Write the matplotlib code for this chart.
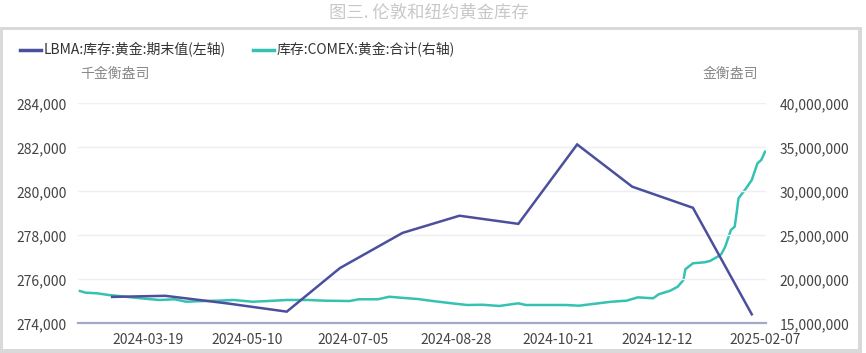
import matplotlib
matplotlib.use("Agg")
import matplotlib.pyplot as plt
import matplotlib.dates as mdates
from matplotlib.lines import Line2D
from matplotlib.patches import Rectangle
from matplotlib.ticker import FuncFormatter, FixedLocator
import pandas as pd

plt.rcParams['font.family'] = ['Noto Sans CJK SC', 'DejaVu Sans']

# ---------------- data ----------------
title = "图三. 伦敦和纽约黄金库存"
lbma_label = "LBMA:库存:黄金:期末值(左轴)"
comex_label = "库存:COMEX:黄金:合计(右轴)"
left_unit = "千金衡盎司"
right_unit = "金衡盎司"

lbma_dates = ["2024-02-29", "2024-03-28", "2024-04-30", "2024-05-31", "2024-06-28",
              "2024-07-31", "2024-08-30", "2024-09-30", "2024-10-31", "2024-11-29",
              "2024-12-31", "2025-01-31"]
lbma_values = [275200, 275250, 274900, 274530, 276510, 278110, 278890, 278520,
               282130, 280210, 279250, 274410]

comex_dates = ["2024-02-12", "2024-02-15", "2024-02-21", "2024-02-27", "2024-03-07",
               "2024-03-15", "2024-03-25", "2024-04-02", "2024-04-08", "2024-04-17",
               "2024-04-25", "2024-05-03", "2024-05-13", "2024-05-21", "2024-05-31",
               "2024-06-11", "2024-06-20", "2024-07-03", "2024-07-08", "2024-07-18",
               "2024-07-24", "2024-07-30", "2024-08-08", "2024-08-16", "2024-08-26",
               "2024-09-03", "2024-09-11", "2024-09-20", "2024-09-30", "2024-10-04",
               "2024-10-17", "2024-10-25", "2024-11-01", "2024-11-08", "2024-11-18",
               "2024-11-26", "2024-12-02", "2024-12-10", "2024-12-13", "2024-12-19",
               "2024-12-23", "2024-12-26", "2024-12-27", "2024-12-31", "2025-01-06",
               "2025-01-09", "2025-01-13", "2025-01-15", "2025-01-17", "2025-01-20",
               "2025-01-22", "2025-01-23", "2025-01-24", "2025-01-28", "2025-01-31",
               "2025-02-03", "2025-02-05", "2025-02-07"]
comex_values = [18.67, 18.48, 18.41, 18.22, 18.02, 17.84, 17.65, 17.73, 17.45, 17.53,
                17.57, 17.65, 17.45, 17.53, 17.65, 17.65, 17.57, 17.53, 17.73, 17.73,
                18.02, 17.91, 17.76, 17.53, 17.27, 17.08, 17.11, 16.97, 17.27, 17.08,
                17.08, 17.08, 17.00, 17.19, 17.45, 17.57, 17.95, 17.84, 18.30, 18.70,
                19.16, 19.92, 21.14, 21.82, 21.93, 22.08, 22.57, 22.88, 23.70, 25.60,
                25.98, 27.50, 29.20, 30.34, 31.28, 33.18, 33.56, 34.50]  # millions oz

xtick_labels = ["2024-03-19", "2024-05-10", "2024-07-05", "2024-08-28",
                "2024-10-21", "2024-12-12", "2025-02-07"]
left_ticks = [274000, 276000, 278000, 280000, 282000, 284000]
right_ticks = [15000000, 20000000, 25000000, 30000000, 35000000, 40000000]

# ---------------- figure ----------------
W, H = 866, 353
fig = plt.figure(figsize=(W / 100, H / 100), dpi=100)
fig.patch.set_facecolor("white")

def fx(px):
    return px / W

def fy(py):
    return 1 - py / H

# frame border
border = "#d9d9d9"
fig.patches.append(Rectangle((0, 0), fx(862), fy(27), transform=fig.transFigure,
                             facecolor=border, edgecolor="none", zorder=-10))
fig.patches.append(Rectangle((fx(3), fy(349)), fx(858 - 3), fy(30) - fy(349),
                             transform=fig.transFigure, facecolor="white",
                             edgecolor="none", zorder=-9))

fig.text(fx(429), fy(13), title, ha="center", va="center", fontsize=12.5,
         color="#c8c8c8")

ax = fig.add_axes([fx(78), fy(323.3), fx(766) - fx(78), fy(103.3) - fy(323.3)])
ax2 = ax.twinx()
ax.set_zorder(ax2.get_zorder() + 1)
ax.patch.set_visible(False)

c_lbma = "#4b4f9c"
c_comex = "#36c2b2"

ld = pd.to_datetime(lbma_dates)
cd = pd.to_datetime(comex_dates)
ax2.plot(cd, [v * 1e6 for v in comex_values], color=c_comex, lw=1.8,
         solid_joinstyle="round")
ax.plot(ld, lbma_values, color=c_lbma, lw=1.8, solid_joinstyle="miter")

ax.set_xlim(pd.Timestamp("2024-02-11"), pd.Timestamp("2025-02-07 12:00"))
ax.set_ylim(274000, 284000)
ax2.set_ylim(15000000, 40000000)

ax.xaxis.set_major_locator(FixedLocator(mdates.date2num(pd.to_datetime(xtick_labels))))
ax.xaxis.set_major_formatter(mdates.DateFormatter("%Y-%m-%d"))
ax.set_yticks(left_ticks)
ax2.set_yticks(right_ticks)
fmt = FuncFormatter(lambda v, p: f"{int(round(v)):,}")
ax.yaxis.set_major_formatter(fmt)
ax2.yaxis.set_major_formatter(fmt)

for a in (ax, ax2):
    for s in a.spines.values():
        s.set_visible(False)
    a.tick_params(length=0, labelsize=10, colors="#444444")
ax.tick_params(axis="x", pad=7)
ax.tick_params(axis="y", pad=8)
ax2.tick_params(axis="y", pad=10)

ax2.grid(False)
for t in left_ticks[1:]:
    ax.axhline(t, color="#eeeef6", lw=1.0, zorder=0)
ax.spines["bottom"].set_visible(True)
ax.spines["bottom"].set_color("#a3a9c6")
ax.spines["bottom"].set_linewidth(1.6)

# legend (manual)
ly = fy(50)
fig.add_artist(Line2D([fx(20), fx(41)], [ly, ly], transform=fig.transFigure,
                      color=c_lbma, lw=2.5))
fig.text(fx(44), ly, lbma_label, ha="left", va="center", fontsize=10, color="#333333")
fig.add_artist(Line2D([fx(253), fx(274)], [ly, ly], transform=fig.transFigure,
                      color=c_comex, lw=2.5))
fig.text(fx(277), ly, comex_label, ha="left", va="center", fontsize=10, color="#333333")

fig.text(fx(80), fy(74), left_unit, ha="left", va="center", fontsize=10, color="#888888")
fig.text(fx(758), fy(74), right_unit, ha="right", va="center", fontsize=10, color="#888888")

fig.savefig("out.png", dpi=100)
